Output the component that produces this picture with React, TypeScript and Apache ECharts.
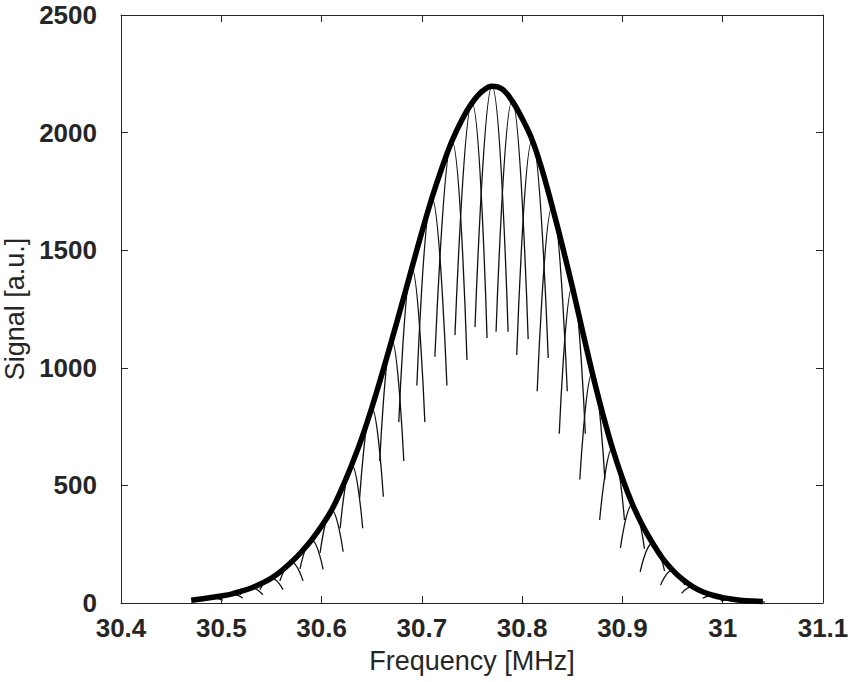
import { useEffect, useRef } from "react";
import * as echarts from "echarts";

// Envelope of the measured line: frequency [MHz] and signal [a.u.]
const FREQ = [
  30.47, 30.48, 30.49, 30.5, 30.51, 30.52, 30.53, 30.54, 30.55, 30.56,
  30.57, 30.58, 30.59, 30.6, 30.61, 30.62, 30.63, 30.64, 30.65, 30.66,
  30.67, 30.68, 30.69, 30.7, 30.71, 30.72, 30.73, 30.74, 30.75, 30.76,
  30.77, 30.78, 30.79, 30.8, 30.81, 30.82, 30.83, 30.84, 30.85, 30.86,
  30.87, 30.88, 30.89, 30.9, 30.91, 30.92, 30.93, 30.94, 30.95, 30.96,
  30.97, 30.98, 30.99, 31.0, 31.01, 31.02, 31.03, 31.04,
];
const SIGNAL = [
  12, 17, 23, 30, 38, 50, 64, 83, 106, 137,
  174, 218, 268, 327, 395, 485, 587, 700, 829, 970,
  1118, 1270, 1424, 1577, 1722, 1850, 1964, 2055, 2126, 2175,
  2197, 2185, 2135, 2060, 1969, 1840, 1685, 1520, 1345, 1160,
  978, 810, 659, 530, 420, 330, 255, 190, 140, 100,
  70, 48, 33, 23, 16, 11, 8, 6,
];

// Single-step spectra: centre, top, and the two ends of each trace
const PEAK_FREQ = [
  30.49, 30.51, 30.53, 30.55, 30.57, 30.59, 30.61, 30.63, 30.65, 30.67,
  30.69, 30.71, 30.73, 30.75, 30.77, 30.79, 30.81, 30.83, 30.85, 30.87,
  30.89, 30.91, 30.93, 30.95, 30.97, 30.99, 31.01, 31.03,
];
const PEAK_TOP = [
  23, 38, 64, 106, 174, 268, 395, 587, 829, 1118,
  1424, 1722, 1964, 2126, 2197, 2135, 1969, 1685, 1345, 978,
  659, 420, 255, 140, 70, 33, 16, 8,
];
const PEAK_LEFT_FREQ = [
  30.4785, 30.4985, 30.5185, 30.5385, 30.5585, 30.5785, 30.5985, 30.6185, 30.638, 30.658,
  30.677, 30.695, 30.713, 30.733, 30.753, 30.774, 30.7946, 30.815, 30.837, 30.8575,
  30.8773, 30.898, 30.9177, 30.938, 30.959, 30.98, 30.998, 31.018,
];
const PEAK_LEFT_VAL = [
  12, 21, 35, 57, 94, 145, 213, 317, 448, 604,
  769, 925, 1047, 1139, 1173, 1153, 1054, 900, 720, 525,
  353, 234, 132, 76, 41, 20, 9, 4,
];
const PEAK_RIGHT_FREQ = [
  30.5015, 30.5215, 30.5415, 30.5615, 30.5815, 30.6015, 30.6215, 30.641, 30.6616, 30.682,
  30.703, 30.725, 30.745, 30.765, 30.786, 30.806, 30.826, 30.845, 30.863, 30.8825,
  30.902, 30.922, 30.942, 30.962, 30.982, 31.002, 31.022, 31.042,
];
const PEAK_RIGHT_VAL = [
  12, 21, 35, 57, 94, 143, 218, 318, 452, 604,
  769, 925, 1033, 1127, 1153, 1122, 1042, 900, 720, 525,
  353, 230, 137, 76, 38, 18, 9, 4,
];

const FONT = "'Liberation Sans', Arial, Helvetica, sans-serif";
const AXIS_COLOR = "#262626";

export default function App() {
  const ref = useRef<HTMLDivElement>(null);

  useEffect(() => {
    const chart = echarts.init(ref.current!, null, { renderer: "svg" });

    const peakSeries = PEAK_FREQ.map((f, i) => ({
      type: "line",
      name: "step " + (i + 1),
      data: [
        [PEAK_LEFT_FREQ[i], PEAK_LEFT_VAL[i]],
        [f, PEAK_TOP[i]],
        [PEAK_RIGHT_FREQ[i], PEAK_RIGHT_VAL[i]],
      ],
      smooth: 0.5,
      symbol: "none",
      showSymbol: false,
      silent: true,
      lineStyle: { color: "#111", width: 1.3 },
      z: 2,
    }));

    const fmtX = (v: number) => {
      const s = v.toFixed(1);
      return s.endsWith(".0") ? s.slice(0, -2) : s;
    };
    const fmtY = (v: number) => String(Math.round(v));

    const xBase = {
      type: "value",
      min: 30.4,
      max: 31.1,
      interval: 0.1,
      splitLine: { show: false },
      axisLine: { show: true, onZero: false, lineStyle: { color: AXIS_COLOR, width: 1 } },
      axisTick: { show: true, inside: true, length: 7, lineStyle: { color: AXIS_COLOR, width: 1 } },
    };
    const yBase = {
      type: "value",
      min: 0,
      max: 2500,
      interval: 500,
      splitLine: { show: false },
      axisLine: { show: true, onZero: false, lineStyle: { color: AXIS_COLOR, width: 1 } },
      axisTick: { show: true, inside: true, length: 7, lineStyle: { color: AXIS_COLOR, width: 1 } },
    };

    chart.setOption({
      animation: false,
      backgroundColor: "#ffffff",
      grid: {
        left: 121,
        right: 25,
        top: 15,
        bottom: 79,
        containLabel: false,
        outerBoundsMode: "none",
      },
      xAxis: [
        {
          ...xBase,
          position: "bottom",
          name: "Frequency [MHz]",
          nameLocation: "middle",
          nameGap: 44,
          nameTextStyle: { color: AXIS_COLOR, fontFamily: FONT, fontSize: 27 },
          axisLabel: {
            show: true,
            margin: 12,
            color: AXIS_COLOR,
            fontFamily: FONT,
            fontSize: 26,
            fontWeight: "bold",
            formatter: fmtX,
          },
        },
        { ...xBase, position: "top", axisLabel: { show: false } },
      ],
      yAxis: [
        {
          ...yBase,
          position: "left",
          name: "Signal [a.u.]",
          nameLocation: "middle",
          nameGap: 74,
          nameTextStyle: { color: AXIS_COLOR, fontFamily: FONT, fontSize: 27 },
          axisLabel: {
            show: true,
            margin: 24,
            color: AXIS_COLOR,
            fontFamily: FONT,
            fontSize: 26,
            fontWeight: "bold",
            formatter: fmtY,
          },
        },
        { ...yBase, position: "right", axisLabel: { show: false } },
      ],
      series: [
        ...peakSeries,
        {
          type: "line",
          name: "envelope",
          data: FREQ.map((f, i) => [f, SIGNAL[i]]),
          smooth: 0.4,
          symbol: "none",
          showSymbol: false,
          silent: true,
          lineStyle: { color: "#000", width: 5.5 },
          z: 5,
        },
      ],
    });

    return () => chart.dispose();
  }, []);

  return (
    <div
      ref={ref}
      style={{ position: "fixed", left: 0, top: 0, width: 848, height: 682, background: "#fff" }}
    />
  );
}
